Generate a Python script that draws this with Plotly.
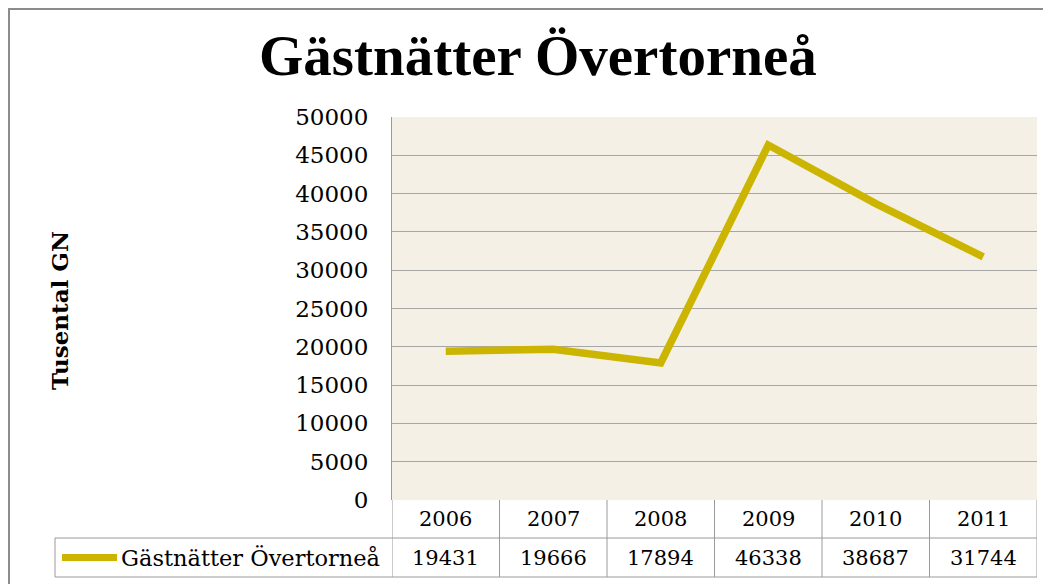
import plotly.graph_objects as go

years = ["2006", "2007", "2008", "2009", "2010", "2011"]
values = [19431, 19666, 17894, 46338, 38687, 31744]
series_name = "Gästnätter Övertorneå"
title_text = "Gästnätter Övertorneå"
y_title = "Tusental GN"
y_ticks = [0, 5000, 10000, 15000, 20000, 25000, 30000, 35000, 40000, 45000, 50000]

# page is offset by the 8px body margin, so the figure is 8px smaller
OFF = 8
W, H = 1051 - OFF, 584 - OFF
L, R, T, B = 392 - OFF, 14, 117 - OFF, 84
pw = W - L - R
ph = H - T - B

line_color = "#CBB500"
grid_color = "#A6A6A6"
border_color = "#9A9A9A"
serif = "DejaVu Serif, Liberation Serif, serif"
title_font = "Liberation Serif, serif"


def px_x(p):
    # p is a page pixel x-coordinate
    return (p - OFF - L) / pw


def px_y(p):
    return 1 - (p - OFF - T) / ph


fig = go.Figure()
fig.add_trace(go.Scatter(
    x=years, y=values, mode="lines", name=series_name,
    line=dict(color=line_color, width=7.5), showlegend=False,
))

row1_bot = px_y(538)
row2_bot = px_y(577)

shapes = []
n = len(years)
for i in range(n + 1):
    shapes.append(dict(type="line", xref="x", yref="paper",
                       x0=i - 0.5, x1=i - 0.5, y0=0, y1=row2_bot,
                       line=dict(color=border_color, width=1)))
for yy in (row1_bot, row2_bot):
    shapes.append(dict(type="line", xref="paper", yref="paper",
                       x0=px_x(55), x1=1, y0=yy, y1=yy,
                       line=dict(color=border_color, width=1)))
shapes.append(dict(type="line", xref="paper", yref="paper",
                   x0=px_x(55), x1=px_x(55), y0=row1_bot, y1=row2_bot,
                   line=dict(color=border_color, width=1)))
# legend key
shapes.append(dict(type="line", xref="paper", yref="paper",
                   x0=px_x(62), x1=px_x(117), y0=(row1_bot + row2_bot) / 2,
                   y1=(row1_bot + row2_bot) / 2,
                   line=dict(color=line_color, width=7)))
# outer chart border (top and left)
shapes.append(dict(type="line", xref="paper", yref="paper",
                   x0=px_x(8), x1=px_x(1060), y0=px_y(9), y1=px_y(9),
                   line=dict(color="#8C8C8C", width=2)))
shapes.append(dict(type="line", xref="paper", yref="paper",
                   x0=px_x(9), x1=px_x(9), y0=px_y(8), y1=px_y(600),
                   line=dict(color="#8C8C8C", width=2)))

annotations = []
for i, (yr, v) in enumerate(zip(years, values)):
    annotations.append(dict(x=i, xref="x", y=(0 + row1_bot) / 2, yref="paper",
                            text=yr, showarrow=False, yanchor="middle",
                            font=dict(family=serif, size=21, color="#000")))
    annotations.append(dict(x=i, xref="x", y=(row1_bot + row2_bot) / 2, yref="paper",
                            text=str(v), showarrow=False, yanchor="middle",
                            font=dict(family=serif, size=21, color="#000")))
annotations.append(dict(x=px_x(119), xref="paper", y=(row1_bot + row2_bot) / 2,
                        yref="paper", text=series_name, showarrow=False,
                        xanchor="left", yanchor="middle",
                        font=dict(family=serif, size=22.5, color="#000")))
annotations.append(dict(x=px_x(59), xref="paper", y=px_y(311), yref="paper",
                        text="<b>" + y_title + "</b>", showarrow=False, textangle=-90,
                        xanchor="center", yanchor="middle",
                        font=dict(family=serif, size=23, color="#000")))
annotations.append(dict(x=px_x(538), xref="paper", y=px_y(55), yref="paper",
                        text="<b>" + title_text + "</b>", showarrow=False,
                        xanchor="center", yanchor="middle",
                        font=dict(family=title_font, size=57, color="#000")))

fig.update_layout(
    width=W, height=H,
    margin=dict(l=L, r=R, t=T, b=B),
    paper_bgcolor="white",
    plot_bgcolor="#F5F0E6",
    shapes=shapes,
    annotations=annotations,
    xaxis=dict(type="category", range=[-0.5, n - 0.5], showticklabels=False,
               showgrid=False, zeroline=False, showline=False, fixedrange=True),
    yaxis=dict(range=[0, 50000], tickvals=y_ticks, ticktext=[str(t) for t in y_ticks],
               showgrid=True, gridcolor=grid_color, gridwidth=1,
               zeroline=False, showline=True, linecolor=border_color, linewidth=1,
               ticks="", ticklabelstandoff=18,
               tickfont=dict(family=serif, size=23, color="#000"), fixedrange=True),
)

fig.write_html("out.html")
